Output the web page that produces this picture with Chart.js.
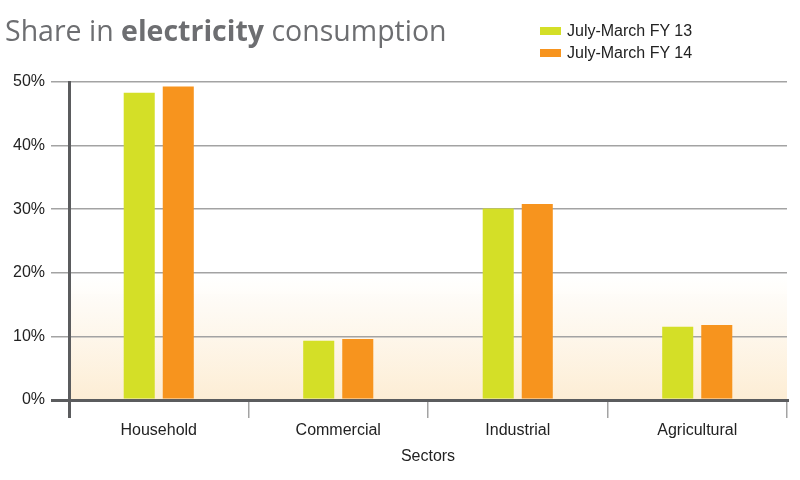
<!DOCTYPE html>
<html>
<head>
<meta charset="utf-8">
<script src="https://cdn.jsdelivr.net/npm/chart.js@4"></script>
<style>
  body { margin: 0; background: #fff; }
  #wrap { position: relative; width: 800px; height: 480px; }
  #chart { position: absolute; left: 0; top: 0; }
  #title {
    position: absolute; left: 5px; top: 16px;
    font-family: "Open Sans", sans-serif; font-size: 28.5px; line-height: 29px;
    color: #6d6e71; white-space: nowrap;
  }
  #title b { font-weight: 700; }
  #legend {
    position: absolute; left: 540px; top: 20px;
    font-family: "Liberation Sans", Arial, sans-serif; font-size: 16px; color: #222;
  }
  .item { display: flex; align-items: center; height: 22px; }
  .box { width: 21px; height: 8px; margin-right: 6px; }
</style>
</head>
<body>
<div id="wrap">
  <canvas id="chart" width="800" height="480"></canvas>
  <div id="title">Share in <b>electricity</b> consumption</div>
  <div id="legend"></div>
</div>
<script>
// data
const sectors = ["Household", "Commercial", "Industrial", "Agricultural"];
const seriesNames = ["July-March FY 13", "July-March FY 14"];
const fy13 = [48.3, 9.3, 30.1, 11.5];
const fy14 = [49.3, 9.6, 30.8, 11.8];
const colors = ["#d4df27", "#f7941e"];

const axisDark = "#5b5c5e";
const gridGray = "#a3a3a3";

// legend as html
const legend = document.getElementById("legend");
seriesNames.forEach((name, i) => {
  const row = document.createElement("div");
  row.className = "item";
  row.innerHTML = '<span class="box" style="background:' + colors[i] + '"></span>' + name;
  legend.appendChild(row);
});

// cream fade behind the lower part of the plot
const bgFade = {
  id: "bgFade",
  beforeDraw(chart) {
    const { ctx, chartArea } = chart;
    const yTop = chart.scales.y.getPixelForValue(20);
    const g = ctx.createLinearGradient(0, yTop, 0, chartArea.bottom);
    g.addColorStop(0, "rgba(253,240,218,0)");
    g.addColorStop(1, "rgba(253,237,212,1)");
    ctx.save();
    ctx.fillStyle = g;
    ctx.fillRect(chartArea.left, yTop, chartArea.right - chartArea.left, chartArea.bottom - yTop);
    ctx.restore();
  }
};

new Chart(document.getElementById("chart"), {
  type: "bar",
  data: {
    labels: sectors,
    datasets: [
      { label: seriesNames[0], data: fy13, backgroundColor: colors[0] },
      { label: seriesNames[1], data: fy14, backgroundColor: colors[1] }
    ]
  },
  options: {
    responsive: false,
    animation: false,
    layout: { padding: { left: 0, right: 13, top: 82, bottom: 0 } },
    plugins: {
      legend: { display: false },
      title: { display: false },
      tooltip: { enabled: false }
    },
    datasets: {
      bar: { barPercentage: 0.795, categoryPercentage: 0.435 }
    },
    scales: {
      x: {
        afterFit: s => { s.height = 80; },
        grid: {
          offset: true,
          drawOnChartArea: false,
          tickLength: 18,
          color: c => c.index === 0 ? axisDark : gridGray,
          lineWidth: c => c.index === 0 ? 3 : 1.5
        },
        border: { color: axisDark, width: 3 },
        ticks: {
          padding: 3,
          color: "#222",
          font: { family: "Liberation Sans", size: 16 }
        },
        title: {
          display: true,
          text: "Sectors",
          color: "#222",
          padding: { top: 0, bottom: 14 },
          font: { family: "Liberation Sans", size: 16 }
        }
      },
      y: {
        min: 0,
        max: 50,
        afterFit: s => { s.width = 69; },
        grid: {
          tickLength: 18,
          color: c => c.tick && c.tick.value === 0 ? axisDark : gridGray,
          lineWidth: c => c.tick && c.tick.value === 0 ? 3 : 1.5
        },
        border: { color: axisDark, width: 3 },
        ticks: {
          stepSize: 10,
          padding: 6,
          color: "#222",
          font: { family: "Liberation Sans", size: 16 },
          callback: v => v + "%"
        }
      }
    }
  },
  plugins: [bgFade]
});
</script>
</body>
</html>
